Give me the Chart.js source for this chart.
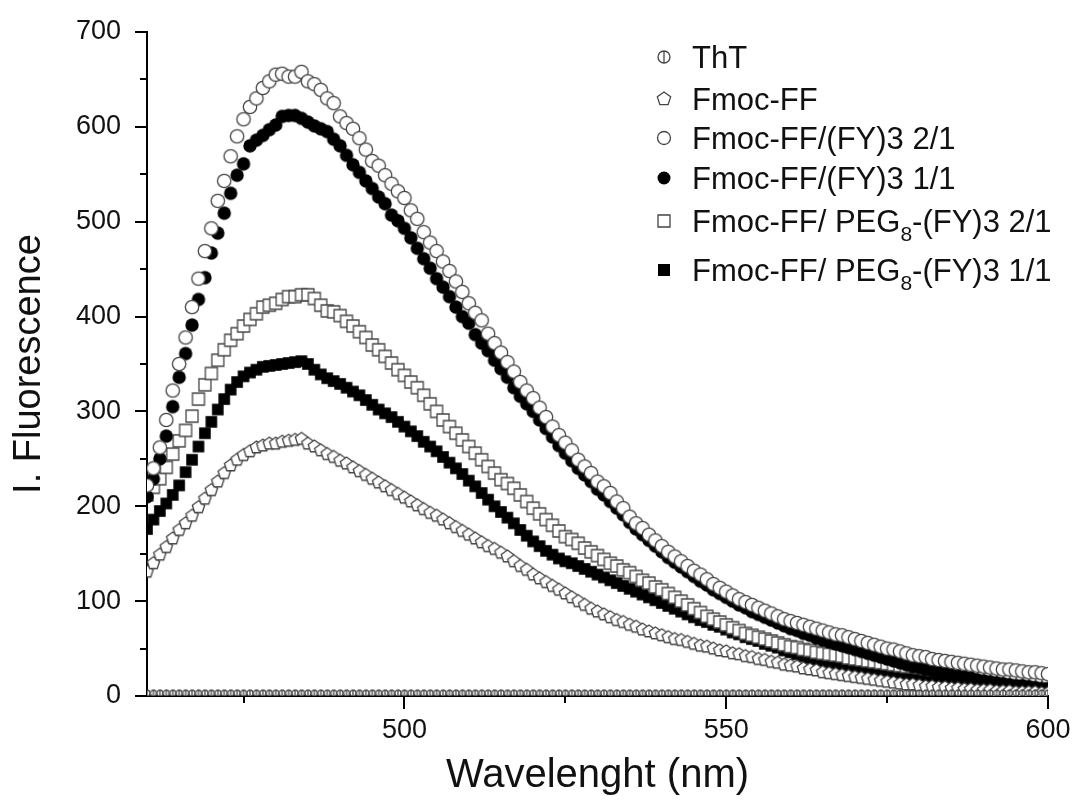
<!DOCTYPE html>
<html><head><meta charset="utf-8">
<script src="https://cdn.jsdelivr.net/npm/chart.js@4.4.0/dist/chart.umd.min.js"></script>
<style>html,body{margin:0;padding:0;background:#fff;}#wrap{width:1076px;height:803px;}</style>
</head><body><div id="wrap"><canvas id="c" width="1076" height="803"></canvas></div>
<script>
const wavelengths = [
460,461,462,463,464,465,466,467,468,469,
470,471,472,473,474,475,476,477,478,479,
480,481,482,483,484,485,486,487,488,489,
490,491,492,493,494,495,496,497,498,499,
500,501,502,503,504,505,506,507,508,509,
510,511,512,513,514,515,516,517,518,519,
520,521,522,523,524,525,526,527,528,529,
530,531,532,533,534,535,536,537,538,539,
540,541,542,543,544,545,546,547,548,549,
550,551,552,553,554,555,556,557,558,559,
560,561,562,563,564,565,566,567,568,569,
570,571,572,573,574,575,576,577,578,579,
580,581,582,583,584,585,586,587,588,589,
590,591,592,593,594,595,596,597,598,599,
600];
const ThT = [
3,3,3,3,3,3,3,3,3,3, 3,3,3,3,3,3,3,3,3,3, 3,3,3,3,3,3,3,3,3,3,
3,3,3,3,3,3,3,3,3,3, 3,3,3,3,3,3,3,3,3,3, 3,3,3,3,3,3,3,3,3,3,
3,3,3,3,3,3,3,3,3,3, 3,3,3,3,3,3,3,3,3,3, 3,3,3,3,3,3,3,3,3,3,
3,3,3,3,3,3,3,3,3,3, 3,3,3,3,3,3,3,3,3,3, 3,3,3,3,3,3,3,3,3,3,
3,3,3,3,3,3,3,3,3,3, 3,3,3,3,3,3,3,3,3,3, 3];
const FmocFF = [
131,140,149,157,166,175,182,190,199,208,
217,226,235,243,249,254,258,262,264,266,
266,268,269,270,271,266,263,259,255,252,
248,245,241,237,233,229,225,221,217,213,
209,205,201,197,193,190,186,182,178,174,
170,166,162,158,155,151,147,142,137,133,
128,124,120,116,112,108,104,100,96,92,
89,86,83,80,78,75,73,70,68,66,
64,62,60,59,57,55,53,52,50,48,
47,45,44,42,41,39,38,36,35,33,
32,31,29,28,27,25,24,23,22,21,
20,19,18,17,16,15,14,13,12,12,
11,10,10,9,9,8,8,7,7,6,
6,6,5,5,5,4,4,4,4,3,
3];
const FY_2to1 = [
222,240,262,291,322,350,378,410,440,469,
493,522,543,569,590,608,621,630,641,648,
655,656,653,653,658,648,645,639,630,625,
611,604,598,588,576,564,559,549,540,532,
525,512,503,489,478,469,458,448,437,426,
414,404,396,382,372,362,352,342,331,322,
314,304,294,284,275,267,259,249,242,235,
226,221,214,205,198,189,182,177,170,164,
158,152,147,142,137,132,128,123,118,114,
110,106,102,99,96,93,90,87,84,81,
79,77,75,73,71,69,67,65,64,62,
60,58,56,54,52,50,49,47,45,43,
42,41,39,38,37,36,35,34,33,32,
31,30,29,28,28,27,26,25,25,24,
23];
const FY_1to1 = [
210,229,250,274,305,336,361,391,418,441,
467,488,509,530,549,561,580,586,591,597,
602,611,612,612,609,605,601,598,595,587,
580,570,560,552,543,535,526,519,507,501,
493,483,472,461,451,440,431,421,410,400,
393,381,372,364,354,345,336,325,316,308,
300,291,282,273,264,256,248,240,233,226,
218,212,205,198,191,183,176,170,164,158,
152,146,141,136,131,126,121,117,112,108,
104,100,96,93,89,86,83,80,77,74,
71,69,66,64,61,59,57,55,53,51,
49,47,45,43,41,39,37,35,33,31,
30,28,27,25,24,22,21,20,19,17,
16,15,14,13,12,11,11,10,9,8,
8];
const PEG_2to1 = [
212,220,229,241,255,269,280,295,313,328,
340,354,365,375,382,390,397,403,410,412,
414,418,421,421,423,423,419,412,406,405,
401,395,390,384,378,370,365,358,351,344,
338,331,325,317,308,300,291,284,277,270,
263,256,249,242,235,228,224,219,212,205,
198,192,186,180,174,168,165,161,156,152,
148,144,140,137,133,130,126,122,119,115,
112,108,104,100,96,92,88,84,81,78,
75,72,69,66,64,62,60,58,56,54,
52,51,49,48,46,45,44,43,42,40,
39,38,37,36,35,34,33,32,31,31,
30,29,28,28,27,26,26,25,25,24,
24,23,22,22,21,21,20,20,19,19,
18];
const PEG_1to1 = [
176,186,195,203,212,222,236,249,263,277,
289,302,313,323,331,337,341,344,347,348,
349,350,351,352,353,350,344,339,335,332,
329,325,321,317,312,307,302,298,294,289,
284,279,274,268,263,258,252,246,240,234,
227,221,214,207,200,194,188,182,175,169,
163,158,153,149,145,142,140,137,134,131,
128,125,122,119,116,113,110,107,104,101,
98,95,92,89,86,83,80,78,75,73,
70,67,65,62,60,58,55,53,51,48,
46,44,42,40,38,36,34,33,31,29,
28,27,25,24,23,22,21,20,19,18,
17,16,15,15,14,13,13,12,12,11,
11,10,10,9,9,9,8,8,8,7,
7];
const seriesLabels = ['ThT','Fmoc-FF','Fmoc-FF/(FY)3 2/1','Fmoc-FF/(FY)3 1/1','Fmoc-FF/ PEG_8-(FY)3 2/1','Fmoc-FF/ PEG_8-(FY)3 1/1'];
const yMajorTicks = [0,100,200,300,400,500,600,700];
const yMinorTicks = [50,150,250,350,450,550,650];
const xMajorTicks = [500,550,600];
const xMinorTicks = [475,525,575];
const xTitle = 'Wavelenght (nm)';
const yTitle = 'I. Fluorescence';

const FONT = '"Liberation Sans", Arial, sans-serif';

function drawMarker(g, kind, x, y, r) {
  g.save();
  g.lineWidth = 1.3;
  g.strokeStyle = '#444';
  g.fillStyle = '#fff';
  if (kind === 'ringbar') {
    g.beginPath(); g.arc(x, y, r, 0, Math.PI*2); g.fill(); g.stroke();
    g.beginPath(); g.moveTo(x, y-r); g.lineTo(x, y+r); g.stroke();
  } else if (kind === 'pentagon') {
    g.beginPath();
    for (let k=0;k<5;k++){const a=-Math.PI/2+k*2*Math.PI/5; const px=x+r*Math.cos(a), py=y+r*Math.sin(a); if(k===0) g.moveTo(px,py); else g.lineTo(px,py);}
    g.closePath(); g.fill(); g.stroke();
  } else if (kind === 'circleOpen') {
    g.beginPath(); g.arc(x, y, r, 0, Math.PI*2); g.fill(); g.stroke();
  } else if (kind === 'circleFilled') {
    g.fillStyle = '#000';
    g.beginPath(); g.arc(x, y, r, 0, Math.PI*2); g.fill();
  } else if (kind === 'squareOpen') {
    g.beginPath(); g.rect(x-r, y-r, 2*r, 2*r); g.fill(); g.stroke();
  } else if (kind === 'squareFilled') {
    g.fillStyle = '#000';
    g.fillRect(x-r, y-r, 2*r, 2*r);
  }
  g.restore();
}
function makeMarker(kind, r) {
  const c = document.createElement('canvas');
  const size = Math.ceil(2*r + 4);
  c.width = size; c.height = size;
  drawMarker(c.getContext('2d'), kind, size/2, size/2, r);
  return c;
}

const markerKinds = ['ringbar','pentagon','circleOpen','circleFilled','squareOpen','squareFilled'];
const plotRadii = [3, 6.5, 6.7, 6.7, 6, 5.8];
const legendRadii = [6, 7, 6.5, 6.5, 6, 6];
const seriesValues = [ThT, FmocFF, FY_2to1, FY_1to1, PEG_2to1, PEG_1to1];

const datasets = seriesValues.map((vals, i) => ({
  label: seriesLabels[i],
  data: wavelengths.map((w, j) => ({x: w, y: vals[j]})),
  showLine: false,
  pointStyle: makeMarker(markerKinds[i], plotRadii[i]),
  pointRadius: plotRadii[i],
  pointHoverRadius: plotRadii[i],
  borderWidth: 0
}));

const axisTicksPlugin = {
  id: 'axisTicks',
  afterDraw(chart) {
    const ctx = chart.ctx, xs = chart.scales.x, ys = chart.scales.y;
    const ax = chart.chartArea.left, ay = chart.chartArea.bottom;
    ctx.save();
    ctx.strokeStyle = '#000'; ctx.lineWidth = 2;
    ctx.beginPath();
    yMajorTicks.forEach(v => { const p = Math.round(ys.getPixelForValue(v)); ctx.moveTo(ax, p); ctx.lineTo(ax-12, p); });
    yMinorTicks.forEach(v => { const p = Math.round(ys.getPixelForValue(v)); ctx.moveTo(ax, p); ctx.lineTo(ax-7, p); });
    xMajorTicks.forEach(v => { const p = Math.round(xs.getPixelForValue(v)); ctx.moveTo(p, ay); ctx.lineTo(p, ay+13); });
    xMinorTicks.forEach(v => { const p = Math.round(xs.getPixelForValue(v)); ctx.moveTo(p, ay); ctx.lineTo(p, ay+7); });
    ctx.stroke();
    ctx.restore();
  }
};

const legendPlugin = {
  id: 'customLegend',
  afterDraw(chart) {
    const ctx = chart.ctx;
    const markerX = 664, textX = 692;
    const centers = [57, 99, 138, 178, 221, 270];
    ctx.save();
    ctx.fillStyle = '#111';
    ctx.textBaseline = 'alphabetic';
    chart.data.datasets.forEach((ds, i) => {
      const cy = centers[i];
      drawMarker(ctx, markerKinds[i], markerX, cy, legendRadii[i]);
      const base = cy + 11;
      const parts = ds.label.split(/_(.)/);
      let x = textX;
      parts.forEach((part, k) => {
        if (k % 2 === 1) {
          ctx.font = '21px ' + FONT;
          ctx.fillText(part, x, base + 9);
        } else {
          ctx.font = '31px ' + FONT;
          ctx.fillText(part, x, base);
        }
        x += ctx.measureText(part).width;
      });
    });
    ctx.restore();
  }
};

new Chart(document.getElementById('c'), {
  type: 'scatter',
  data: { datasets },
  options: {
    responsive: false,
    animation: false,
    layout: { padding: { top: 32, right: 28, left: 0, bottom: 0 } },
    plugins: { legend: { display: false }, tooltip: { enabled: false } },
    scales: {
      x: {
        type: 'linear', min: 460, max: 600,
        afterBuildTicks: s => { s.ticks = xMajorTicks.map(v => ({ value: v })); },
        afterFit: s => { s.height = 107; s.paddingLeft = 0; s.paddingRight = 0; },
        grid: { display: false },
        border: { display: true, color: '#000', width: 2 },
        ticks: { font: { family: FONT, size: 27 }, color: '#111', padding: 10, maxRotation: 0, autoSkip: false },
        title: { display: true, text: xTitle, font: { family: FONT, size: 40 }, color: '#111', padding: { top: 0, bottom: 3 } }
      },
      y: {
        type: 'linear', min: 0, max: 700,
        afterBuildTicks: s => { s.ticks = yMajorTicks.map(v => ({ value: v })); },
        afterFit: s => { s.width = 147; s.paddingTop = 0; s.paddingBottom = 0; },
        grid: { display: false },
        border: { display: true, color: '#000', width: 2 },
        ticks: { font: { family: FONT, size: 27 }, color: '#111', padding: 18, autoSkip: false },
        title: { display: true, text: yTitle, font: { family: FONT, size: 38 }, color: '#111', padding: { top: 7, bottom: 7 } }
      }
    }
  },
  plugins: [axisTicksPlugin, legendPlugin]
});
</script>
</body></html>
